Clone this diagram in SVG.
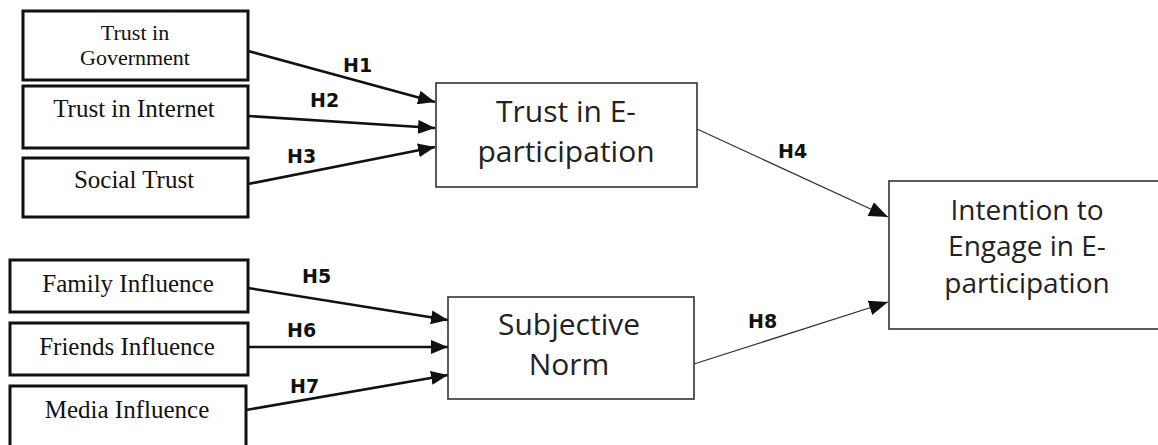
<svg xmlns="http://www.w3.org/2000/svg" width="1158" height="445" viewBox="0 0 1158 445">
<style>
.src rect{fill:#fff;stroke:#111;stroke-width:3}
.mid rect{fill:#fff;stroke:#333;stroke-width:1.6}
.serif{font-family:"Liberation Serif","Times New Roman",serif;font-size:25px;fill:#111;text-anchor:middle}
.sans{font-family:"Open Sans","Noto Sans",sans-serif;font-size:30px;fill:#222;text-anchor:middle}
.lbl{font-family:"DejaVu Sans","Verdana",sans-serif;font-weight:bold;font-size:19px;fill:#111}
.thick{stroke:#111;stroke-width:2.6;fill:none}
.thin{stroke:#333;stroke-width:1.3;fill:none}
</style>
<defs>
<marker id="ah" markerUnits="userSpaceOnUse" markerWidth="17" markerHeight="14" refX="17" refY="7" orient="auto">
<path d="M0,0 L17,7 L0,14 z" fill="#111"/>
</marker>
<marker id="ah2" markerUnits="userSpaceOnUse" markerWidth="19" markerHeight="15" refX="19" refY="7.5" orient="auto">
<path d="M0,0 L19,7.5 L0,15 z" fill="#111"/>
</marker>
</defs>
<rect width="1158" height="445" fill="#fff"/>
<g id="connectors">
<line class="thick" x1="248" y1="51" x2="435" y2="102" marker-end="url(#ah)"/>
<line class="thick" x1="248" y1="116" x2="435" y2="128" marker-end="url(#ah)"/>
<line class="thick" x1="248" y1="184" x2="435" y2="147" marker-end="url(#ah)"/>
<line class="thin" x1="697" y1="129" x2="888" y2="217" marker-end="url(#ah2)"/>
<line class="thick" x1="248" y1="288" x2="448" y2="320" marker-end="url(#ah)"/>
<line class="thick" x1="248" y1="347" x2="448" y2="347" marker-end="url(#ah)"/>
<line class="thick" x1="246" y1="410" x2="448" y2="375" marker-end="url(#ah)"/>
<line class="thin" x1="694" y1="364" x2="888" y2="302" marker-end="url(#ah2)"/>
<text class="lbl" x="343" y="72">H1</text>
<text class="lbl" x="310" y="107">H2</text>
<text class="lbl" x="287" y="163">H3</text>
<text class="lbl" x="778" y="158">H4</text>
<text class="lbl" x="302" y="283">H5</text>
<text class="lbl" x="287" y="337">H6</text>
<text class="lbl" x="290" y="393">H7</text>
<text class="lbl" x="748" y="328">H8</text>
</g>
<g id="trust-gov" class="src">
<rect x="23" y="11" width="225" height="69"/>
<text class="serif" x="135" y="40" style="font-size:22px">Trust in</text>
<text class="serif" x="135" y="65" style="font-size:22px">Government</text>
</g>
<g id="trust-internet" class="src">
<rect x="23" y="86" width="225" height="62"/>
<text class="serif" x="134" y="117">Trust in Internet</text>
</g>
<g id="social-trust" class="src">
<rect x="23" y="158" width="225" height="59"/>
<text class="serif" x="134" y="188">Social Trust</text>
</g>
<g id="family" class="src">
<rect x="10" y="260" width="238" height="52"/>
<text class="serif" x="128" y="292">Family Influence</text>
</g>
<g id="friends" class="src">
<rect x="10" y="323" width="238" height="52"/>
<text class="serif" x="127" y="355">Friends Influence</text>
</g>
<g id="media" class="src">
<rect x="10" y="386" width="236" height="70"/>
<text class="serif" x="127" y="418">Media Influence</text>
</g>
<g id="trust-ep" class="mid">
<rect x="436" y="83" width="261" height="104"/>
<text class="sans" x="566" y="122">Trust in E-</text>
<text class="sans" x="566" y="162">participation</text>
</g>
<g id="subjective-norm" class="mid">
<rect x="448" y="297" width="246" height="102"/>
<text class="sans" x="569" y="335">Subjective</text>
<text class="sans" x="569" y="375">Norm</text>
</g>
<g id="intention" class="mid">
<rect x="889" y="181" width="280" height="148"/>
<text class="sans" x="1027" y="220" style="font-size:28px">Intention to</text>
<text class="sans" x="1027" y="256" style="font-size:28px">Engage in E-</text>
<text class="sans" x="1027" y="293" style="font-size:28px">participation</text>
</g>
</svg>
